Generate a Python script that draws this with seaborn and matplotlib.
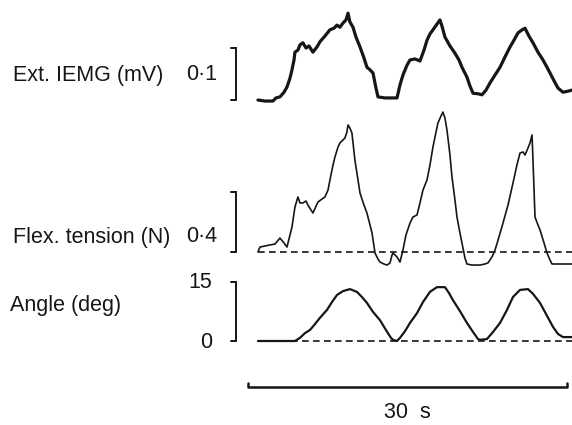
import matplotlib
matplotlib.use("Agg")
import matplotlib.pyplot as plt
import seaborn as sns

# time (s) and values
emg_t = [0.0, 0.66, 1.41, 1.69, 2.07, 2.45, 2.73, 3.01, 3.20, 3.39, 3.48, 3.76, 3.95, 4.23,
         4.52, 4.80, 5.17, 5.55, 5.83, 6.30, 6.77, 7.15, 7.43, 7.71, 8.00, 8.28, 8.47, 8.65,
         8.94, 9.22, 9.60, 9.97, 10.25, 10.54, 10.82, 11.10, 11.29, 11.95, 13.08, 13.36,
         13.64, 14.02, 14.30, 14.77, 15.24, 15.62, 15.90, 16.18, 16.46, 16.84, 17.12, 17.31,
         17.59, 18.06, 18.53, 18.91, 19.19, 19.66, 19.94, 20.23, 20.70, 21.07, 21.45, 21.83,
         22.30, 22.77, 23.24, 23.71, 24.08, 24.46, 24.84, 25.12, 25.49, 25.87, 26.34, 26.81,
         27.19, 27.47, 27.85, 28.22, 28.69, 29.16, 29.54]
emg_mv = [0.000, -0.002, -0.002, 0.004, 0.006, 0.015, 0.025, 0.042, 0.058, 0.077, 0.092,
          0.096, 0.106, 0.110, 0.100, 0.104, 0.092, 0.102, 0.112, 0.123, 0.135, 0.138, 0.144,
          0.140, 0.148, 0.154, 0.167, 0.150, 0.140, 0.121, 0.102, 0.081, 0.063, 0.058, 0.052,
          0.023, 0.006, 0.004, 0.004, 0.029, 0.048, 0.067, 0.077, 0.079, 0.075, 0.096, 0.115,
          0.127, 0.135, 0.146, 0.154, 0.142, 0.121, 0.104, 0.090, 0.077, 0.063, 0.044, 0.027,
          0.013, 0.012, 0.010, 0.019, 0.033, 0.048, 0.063, 0.083, 0.102, 0.115, 0.129, 0.135,
          0.138, 0.123, 0.110, 0.092, 0.077, 0.063, 0.052, 0.037, 0.023, 0.015, 0.017, 0.019]

flex_t = [0.00, 0.19, 0.66, 1.13, 1.60, 2.07, 2.45, 2.73, 3.01, 3.20, 3.48, 3.76, 3.95, 4.23,
          4.52, 4.70, 5.17, 5.64, 6.02, 6.30, 6.59, 6.77, 7.06, 7.24, 7.53, 7.71, 8.00, 8.18,
          8.37, 8.47, 8.65, 8.84, 9.12, 9.41, 9.60, 9.97, 10.25, 10.54, 10.73, 11.01, 11.29,
          11.48, 11.85, 12.14, 12.42, 12.61, 12.70, 12.89, 13.08, 13.36, 13.64, 13.92, 14.30,
          14.58, 14.96, 15.24, 15.52, 15.90, 16.18, 16.46, 16.75, 16.93, 17.22, 17.40, 17.59,
          17.78, 18.06, 18.25, 18.53, 18.72, 19.00, 19.19, 19.47, 19.66, 20.13, 20.88, 21.35,
          21.64, 22.01, 22.30, 22.67, 23.05, 23.52, 23.99, 24.36, 24.65, 24.93, 25.12, 25.40,
          25.59, 25.78, 25.87, 26.06, 26.34, 26.53, 26.91, 27.19, 27.47, 27.66, 28.41, 29.54]
flex_n = [0.000, 0.033, 0.040, 0.047, 0.053, 0.093, 0.060, 0.033, 0.113, 0.167, 0.300, 0.367,
          0.327, 0.327, 0.340, 0.313, 0.260, 0.333, 0.353, 0.367, 0.413, 0.480, 0.580, 0.633,
          0.700, 0.727, 0.747, 0.760, 0.800, 0.847, 0.827, 0.793, 0.613, 0.480, 0.393, 0.313,
          0.260, 0.180, 0.127, -0.007, -0.047, -0.067, -0.080, -0.087, -0.073, -0.020, -0.007,
          -0.020, -0.033, -0.067, 0.013, 0.113, 0.193, 0.233, 0.247, 0.327, 0.413, 0.480,
          0.580, 0.700, 0.800, 0.860, 0.907, 0.933, 0.893, 0.813, 0.647, 0.500, 0.347, 0.233,
          0.127, 0.060, -0.040, -0.080, -0.087, -0.087, -0.080, -0.073, -0.033, 0.013, 0.100,
          0.193, 0.313, 0.460, 0.580, 0.660, 0.667, 0.647, 0.693, 0.727, 0.780, 0.613, 0.233,
          0.180, 0.147, 0.060, -0.007, -0.053, -0.080, -0.080, -0.080]

angle_t = [0.00, 3.48, 3.95, 4.42, 4.89, 5.36, 5.83, 6.49, 6.96, 7.43, 8.00, 8.65, 9.31,
           9.78, 10.25, 10.82, 11.48, 12.04, 12.51, 12.70, 13.08, 13.36, 13.83, 14.30, 14.96,
           15.52, 16.18, 16.84, 17.59, 17.97, 18.34, 19.00, 19.66, 20.23, 20.70, 20.88, 21.54,
           22.11, 22.77, 23.42, 23.99, 24.65, 25.40, 25.87, 26.53, 27.19, 27.75, 28.22, 28.69,
           29.54]
angle_deg = [0.0, 0.0, 0.8, 2.0, 2.8, 4.3, 5.9, 7.9, 9.9, 11.7, 12.7, 13.2, 12.5, 11.2, 9.7,
             7.4, 5.3, 2.8, 0.8, 0.3, 0.0, 0.8, 2.5, 4.6, 7.1, 9.9, 12.5, 13.7, 13.7, 12.2,
             10.4, 7.6, 4.6, 2.3, 0.5, 0.3, 0.5, 2.3, 4.6, 7.9, 11.2, 13.0, 13.2, 12.0, 9.7,
             6.4, 3.6, 1.8, 1.0, 1.0]

trace_span = [0.0, 29.54]
time_bar = [-0.94, 29.06]   # 30 s
emg_scale = 0.1
flex_scale = 0.4
angle_scale = 15

ink = "#161616"
sns.set_style("white")
plt.rcParams["font.family"] = ["Liberation Sans", "DejaVu Sans"]

W, H = 572, 425
fig = plt.figure(figsize=(W / 100, H / 100), dpi=100)


def add_ax(top, bottom):
    ax = fig.add_axes([230 / W, 1 - bottom / H, (572 - 230) / W, (bottom - top) / H])
    ax.set_xlim(-2.63, 29.54)
    ax.axis("off")
    return ax


def bracket(ax, lo, hi):
    ax.plot([-2.54, -2.07, -2.07, -2.54], [hi, hi, lo, lo], color=ink, lw=1.4,
            clip_on=False, solid_joinstyle="miter")


fs = 15.5

# extensor IEMG
ax1 = add_ax(0, 110)
ax1.set_ylim(-0.0192, 0.1923)
sns.lineplot(x=emg_t, y=emg_mv, ax=ax1, color=ink, lw=2.3, estimator=None, sort=False)
bracket(ax1, 0, emg_scale)
fig.text(13 / W, 1 - 75 / H, "Ext. IEMG (mV)", fontsize=fs, va="center", color=ink)
fig.text(217 / W, 1 - 75 / H, "0·1", fontsize=fs, va="center", ha="right", color=ink)

# flexor tension
ax2 = add_ax(110, 270)
ax2.set_ylim(-0.12, 0.9467)
sns.lineplot(x=flex_t, y=flex_n, ax=ax2, color=ink, lw=1.2, estimator=None, sort=False)
ax2.plot(trace_span, [0, 0], color=ink, lw=1.2, ls=(0, (4, 2.6)))
bracket(ax2, 0, flex_scale)
fig.text(13 / W, 1 - 237 / H, "Flex. tension (N)", fontsize=fs, va="center", color=ink)
fig.text(217 / W, 1 - 237 / H, "0·4", fontsize=fs, va="center", ha="right", color=ink)

# joint angle
ax3 = add_ax(275, 360)
ax3.set_ylim(-4.83, 16.79)
sns.lineplot(x=angle_t, y=angle_deg, ax=ax3, color=ink, lw=1.6, estimator=None, sort=False)
ax3.plot(trace_span, [0, 0], color=ink, lw=1.2, ls=(0, (4, 2.6)))
bracket(ax3, 0, angle_scale)
fig.text(10 / W, 1 - 305 / H, "Angle (deg)", fontsize=fs, va="center", color=ink)
fig.text(212 / W, 1 - 282 / H, "15", fontsize=fs, va="center", ha="right", color=ink)
fig.text(212 / W, 1 - 342 / H, "0", fontsize=fs, va="center", ha="right", color=ink)

# time scale bar
ax4 = add_ax(370, 425)
ax4.set_ylim(-38, 17)
ax4.plot([time_bar[0], time_bar[0], time_bar[1], time_bar[1]], [4, 0, 0, 4],
         color=ink, lw=1.8, clip_on=False)
ax4.text(sum(time_bar) / 2, -25, "30  s", fontsize=fs, ha="center", va="center", color=ink)

fig.savefig("out.png", dpi=100)
